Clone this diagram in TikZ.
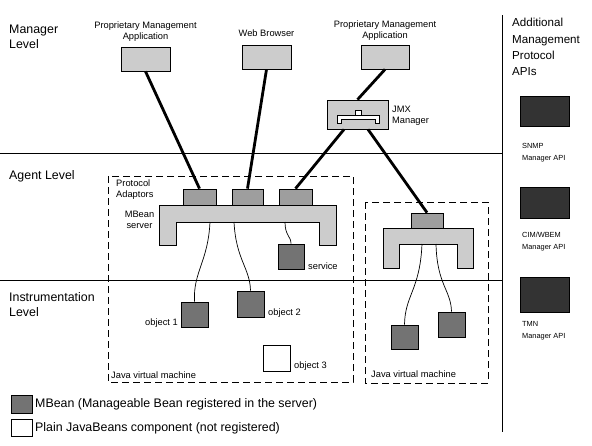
\documentclass[tikz,border=0pt]{standalone}
\usepackage{fontspec}
\setmainfont{Liberation Sans}
\begin{document}
\begin{tikzpicture}[x=1pt,y=-1pt,
  bx/.style={draw=black, line width=0.8pt, inner sep=0pt},
  appbox/.style={bx, fill=black!20},
  adbox/.style={bx, fill=black!38},
  mbean/.style={bx, fill=black!55},
  plain/.style={bx, fill=white},
  apibox/.style={bx, fill=black!80},
  server/.style={draw=black, line width=0.8pt, fill=black!20},
  thick link/.style={line width=2.8pt},
  wire/.style={line width=0.7pt},
  jvm/.style={draw=black, line width=0.8pt, dash pattern=on 7pt off 4pt},
  sep/.style={line width=0.8pt},
  small/.style={font=\fontsize{9.3}{11}\selectfont, inner sep=0pt},
  tiny/.style={font=\fontsize{7.4}{12}\selectfont, inner sep=0pt, align=left, anchor=west},
  level/.style={font=\fontsize{12.4}{15}\selectfont, inner sep=0pt, align=left, anchor=west},
  legend/.style={font=\fontsize{12.4}{14}\selectfont, inner sep=0pt, anchor=west}]
\useasboundingbox (0,0) rectangle (592,445);

% separators
\draw[sep] (0,153) -- (502,153);
\draw[sep] (0,280) -- (502,280);
\draw[sep] (502,15) -- (502,432);

% level labels
\node[level] (lman) at (9,36.5) {Manager\\Level};
\node[level] (lag) at (9,176) {Agent Level};
\node[level] (lins) at (9,304.5) {Instrumentation\\Level};

% manager level
\node[appbox, minimum width=49pt, minimum height=24pt] (pma1) at (145.5,59) {};
\node[small, align=center] (pma1t) at (145.5,31.5) {Proprietary Management\\Application};
\node[appbox, minimum width=49pt, minimum height=24pt] (web) at (266.5,57) {};
\node[small] (webt) at (266.5,33) {Web Browser};
\node[appbox, minimum width=48pt, minimum height=24pt] (pma2) at (385,57) {};
\node[small, align=center] (pma2t) at (385,30.5) {Proprietary Management\\Application};

% JMX manager
\node[appbox, minimum width=61pt, minimum height=29pt] (jmx) at (357.5,114.5) {};
\draw[line width=0.8pt, fill=white] (355,110) rectangle (361,115);
\draw[line width=0.8pt, fill=white] (337,115) -- (379,115) -- (379,123) -- (375,123) -- (375,119) -- (341,119) -- (341,123) -- (337,123) -- cycle;
\node[small, align=left, anchor=west] (jmxt) at (392,115.5) {JMX\\Manager};

% JVM 1
\draw[jvm] (108,176) rectangle (353,382);
\node[small, align=left, anchor=west] (pat) at (116,189.5) {Protocol\\Adaptors};
\draw[server] (159,205) -- (336,205) -- (336,245) -- (319,245) -- (319,222) -- (176,222) -- (176,245) -- (159,245) -- cycle;
\node[small, align=center] (mbst) at (139.5,219.5) {MBean\\server};
\node[adbox, minimum width=33pt, minimum height=16pt] (ad1) at (199.5,197) {};
\node[adbox, minimum width=31pt, minimum height=16pt] (ad2) at (247.5,197) {};
\node[adbox, minimum width=33pt, minimum height=16pt] (ad3) at (295.5,197) {};
\node[mbean, minimum width=26pt, minimum height=25pt] (svc) at (291,256.5) {};
\node[small, anchor=west] (svct) at (308,266) {service};
\node[mbean, minimum width=27pt, minimum height=25pt] (obj1) at (194.5,314.5) {};
\node[small, anchor=east] (obj1t) at (178,323) {object 1};
\node[mbean, minimum width=27pt, minimum height=26pt] (obj2) at (250.5,304) {};
\node[small, anchor=west] (obj2t) at (268,313) {object 2};
\node[plain, minimum width=27pt, minimum height=26pt] (obj3) at (276.5,358) {};
\node[small, anchor=west] (obj3t) at (294,366) {object 3};
\node[small, anchor=west] (jvm1t) at (111,375) {Java virtual machine};

\coordinate (w1) at (210,222);
\coordinate (w2) at (234,222);
\coordinate (w3) at (285,222);
\draw[wire] (w1) .. controls (208,262) and (193,272) .. (obj1.north);
\draw[wire] (w2) .. controls (236,260) and (250,268) .. (obj2.north);
\draw[wire] (w3) .. controls (285,236) and (291,236) .. (svc.north);

% JVM 2
\draw[jvm] (365,202) rectangle (488,383);
\draw[server] (383,228) -- (473,228) -- (473,268) -- (457,268) -- (457,244) -- (399,244) -- (399,268) -- (383,268) -- cycle;
\node[adbox, minimum width=32pt, minimum height=15pt] (adR) at (427,220.5) {};
\node[mbean, minimum width=27pt, minimum height=24pt] (objA) at (404.5,337) {};
\node[mbean, minimum width=27pt, minimum height=25pt] (objB) at (451.5,324.5) {};
\node[small, anchor=west] (jvm2t) at (371,374) {Java virtual machine};
\coordinate (w4) at (422,244);
\coordinate (w5) at (436,244);
\draw[wire] (w4) .. controls (420,290) and (405,295) .. (objA.north);
\draw[wire] (w5) .. controls (437,285) and (451,290) .. (objB.north);

% thick links
\draw[thick link] (pma1.south) -- (ad1.north);
\draw[thick link] (web.south) -- (ad2.north);
\draw[thick link] (pma2.south) -- (jmx.north);
\draw[thick link] ([xshift=-13.5pt]jmx.south) -- (ad3.north);
\draw[thick link] ([xshift=10.5pt]jmx.south) -- (adR.north);

% legend
\node[mbean, minimum width=21pt, minimum height=18pt] (lg1) at (21.5,404) {};
\node[legend] (lg1t) at (35,404) {MBean (Manageable Bean registered in the server)};
\node[plain, minimum width=21pt, minimum height=17pt] (lg2) at (21.5,427.5) {};
\node[legend] (lg2t) at (35,428) {Plain JavaBeans component (not registered)};

% right column
\node[font=\fontsize{11.6}{16.3}\selectfont, inner sep=0pt, align=left, anchor=west] (addt) at (512,47) {Additional\\Management\\Protocol\\APIs};
\node[apibox, minimum width=49pt, minimum height=30pt] (snmp) at (544.5,111) {};
\node[tiny] (snmpt) at (522,153) {SNMP\\Manager API};
\node[apibox, minimum width=49pt, minimum height=31pt] (cim) at (544.5,202.5) {};
\node[tiny] (cimt) at (522,241.5) {CIM/WBEM\\Manager API};
\node[apibox, minimum width=49pt, minimum height=35pt] (tmn) at (544.5,294.5) {};
\node[tiny] (tmnt) at (522,331) {TMN\\Manager API};
\end{tikzpicture}
\end{document}
